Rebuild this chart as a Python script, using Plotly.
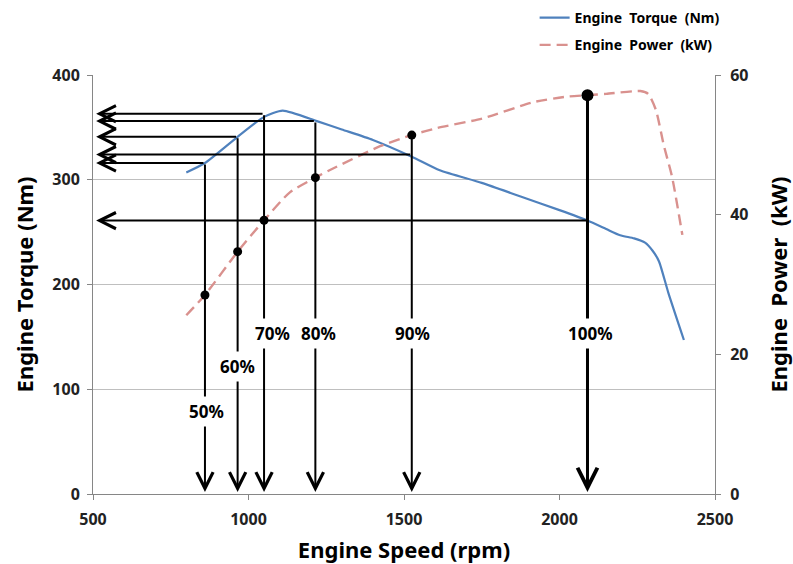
import plotly.graph_objects as go

# ---- data ----
rpm_torque = [800, 860, 965, 1050, 1110, 1220, 1300, 1400, 1525, 1615, 1750, 1875, 2000, 2090, 2150, 2195, 2240, 2275, 2300, 2320, 2350, 2400]
torque = [307, 316, 341, 360, 366, 356, 348, 338, 322, 309, 297, 284, 271, 261, 253, 247, 244, 240, 232, 222, 192, 147]

rpm_power = [800, 860, 965, 1050, 1133, 1215, 1262, 1423, 1525, 1606, 1754, 1915, 2024, 2090, 2150, 2260, 2285, 2310, 2335, 2362, 2395]
power = [25.6, 28.5, 34.7, 39.2, 43.2, 45.3, 46.4, 49.8, 51.4, 52.4, 53.8, 56.1, 56.9, 57.1, 57.3, 57.7, 57.3, 55.0, 50.0, 45.4, 37.1]

op_pct = ["50%", "60%", "70%", "80%", "90%", "100%"]
op_rpm = [860, 965, 1050, 1215, 1525, 2090]
op_torque = [316, 341, 363, 356, 324, 261]
op_power = [28.5, 34.7, 39.2, 45.3, 51.4, 57.1]

x_ticks = [500, 1000, 1500, 2000, 2500]
y_ticks = [0, 100, 200, 300, 400]
y2_ticks = [0, 20, 40, 60]

# ---- style / layout helpers ----
label_y = [79, 122, 153, 153, 153, 153]      # label vertical placement (torque units)
label_xshift = [2, 0, 8, 3, 1, 3]
FONT = "Noto Sans"
BLUE = "#4F81BD"
RED = "#D9918E"
scale = 400 / 60

fig = go.Figure()
fig.add_trace(go.Scatter(x=rpm_torque, y=torque, mode="lines", name="Engine  Torque  (Nm)",
                         line=dict(color=BLUE, width=2.2, shape="spline", smoothing=0.6),
                         legendgroup="a", yaxis="y"))
fig.add_trace(go.Scatter(x=rpm_power, y=power, mode="lines", name="Engine  Power  (kW)",
                         line=dict(color=RED, width=2.4, dash="11px,6px", shape="spline", smoothing=0.6),
                         legendgroup="b", yaxis="y2"))
fig.add_trace(go.Scatter(x=op_rpm, y=op_power, mode="markers", showlegend=False,
                         marker=dict(color="black", size=[9, 9, 9, 9, 9, 12], opacity=1,
                                     line=dict(width=0)), yaxis="y2",
                         hoverinfo="skip"))

ann = []
for i, (r, t, p) in enumerate(zip(op_rpm, op_torque, op_power)):
    w = 3 if i == len(op_rpm) - 1 else 2
    top = max(t, p * scale)
    # vertical arrow down to x axis
    ann.append(dict(x=r, y=2, ax=r, ay=top, xref="x", yref="y", axref="x", ayref="y",
                    text="", showarrow=True, arrowhead=5, arrowsize=1.6 if w == 2 else 1.3,
                    arrowwidth=w, arrowcolor="black", standoff=0, startstandoff=0))
    # horizontal arrow to torque axis
    ann.append(dict(x=510, y=t, ax=r, ay=t, xref="x", yref="y", axref="x", ayref="y",
                    text="", showarrow=True, arrowhead=5, arrowsize=1.6, arrowwidth=2,
                    arrowcolor="black", standoff=0, startstandoff=0))
for i, r in enumerate(op_rpm):
    ann.append(dict(x=r, y=label_y[i], xref="x", yref="y", text="<b>%s</b>" % op_pct[i],
                    showarrow=False, bgcolor="white", borderpad=3, xshift=label_xshift[i],
                    font=dict(family=FONT, size=17, color="black")))

TICKFONT = dict(family=FONT, size=16, color="#222", weight="bold")
TITLEFONT = dict(family=FONT, size=22, color="black")

fig.update_layout(
    width=793, height=564,
    margin=dict(l=93, r=78, t=75, b=70, autoexpand=False),
    paper_bgcolor="white", plot_bgcolor="white",
    font=dict(family=FONT, color="#222"),
    annotations=ann,
    showlegend=True,
    legend=dict(x=0.71, y=1.174, xanchor="left", yanchor="top", tracegroupgap=6,
                font=dict(family=FONT, size=14, color="black", weight="bold"),
                bgcolor="rgba(0,0,0,0)"),
    xaxis=dict(range=[500, 2500], tickvals=x_ticks, showgrid=False, showline=True,
               linecolor="#868686", linewidth=1, ticks="outside", ticklen=5, tickcolor="#868686",
               tickfont=TICKFONT, zeroline=False, automargin=False, ticklabelstandoff=6,
               title=dict(text="<b>Engine Speed (rpm)</b>", font=TITLEFONT, standoff=18)),
    yaxis=dict(range=[0, 400], tickvals=y_ticks, showgrid=True, gridcolor="#BFBFBF", gridwidth=1,
               showline=True, linecolor="#868686", ticks="outside", ticklen=5, tickcolor="#868686",
               tickfont=TICKFONT, zeroline=False, automargin=False, ticklabelstandoff=4,
               title=dict(text="<b>Engine Torque (Nm)</b>", font=TITLEFONT, standoff=12)),
    yaxis2=dict(range=[0, 60], tickvals=y2_ticks, overlaying="y", side="right", showgrid=False,
                showline=True, linecolor="#868686", ticks="outside", ticklen=5, tickcolor="#868686",
                tickfont=TICKFONT, zeroline=False, automargin=False, ticklabelstandoff=6,
                title=dict(text="<b>Engine  Power  (kW)</b>", font=TITLEFONT, standoff=26)),
)

fig.write_html("out.html", config={"displayModeBar": False},
               post_script="document.body.style.margin='0';document.body.style.overflow='hidden';")
